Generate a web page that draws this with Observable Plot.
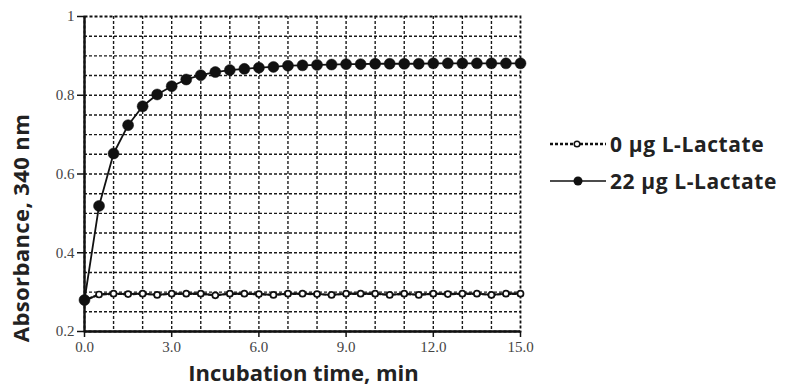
<!DOCTYPE html>
<html>
<head>
<meta charset="utf-8">
<script src="https://cdn.jsdelivr.net/npm/d3@7"></script>
<script src="https://cdn.jsdelivr.net/npm/@observablehq/plot@0.6"></script>
<style>
  html, body { margin: 0; padding: 0; background: #fff; }
  #wrap { position: relative; width: 787px; height: 389px; }
  #legend { position: absolute; left: 548px; top: 129px; font-family: "Open Sans", Lato, sans-serif; font-weight: bold; font-size: 21px; letter-spacing: 0.6px; color: #222; }
  .row { position: absolute; left: 0; white-space: nowrap; display: flex; align-items: center; height: 30px; }
  .row svg { display: block; }
  #ytitle { position: absolute; left: 20px; top: 228px; transform: translate(-50%, -50%) rotate(-90deg); white-space: nowrap; font-family: "Open Sans", sans-serif; font-weight: bold; font-size: 22px; letter-spacing: 0.4px; color: #222; line-height: 1; }
</style>
</head>
<body>
<div id="wrap"></div>
<script>
// ---- data ----
const times = [0,0.5,1,1.5,2,2.5,3,3.5,4,4.5,5,5.5,6,6.5,7,7.5,8,8.5,9,9.5,10,10.5,11,11.5,12,12.5,13,13.5,14,14.5,15];
const lactate22 = [0.280,0.519,0.652,0.724,0.772,0.802,0.823,0.840,0.851,0.859,0.864,0.867,0.870,0.872,0.875,0.876,0.877,0.878,0.879,0.879,0.880,0.880,0.880,0.880,0.881,0.881,0.881,0.881,0.881,0.881,0.881];
const lactate0 = [0.279,0.294,0.296,0.295,0.296,0.293,0.296,0.296,0.296,0.292,0.296,0.296,0.295,0.293,0.296,0.296,0.295,0.293,0.296,0.296,0.296,0.293,0.296,0.293,0.296,0.295,0.296,0.296,0.293,0.296,0.296];
const seriesNames = ["0 µg L-Lactate", "22 µg L-Lactate"];
const xTicks = [0,3,6,9,12,15];
const xTickLabels = ["0.0","3.0","6.0","9.0","12.0","15.0"];
const yTicks = [0.2,0.4,0.6,0.8,1];
const yTickLabels = ["0.2","0.4","0.6","0.8","1"];
const xGrid = [1,2,3,4,5,6,7,8,9,10,11,12,13,14];
const yGrid = [0.25,0.3,0.35,0.4,0.45,0.5,0.55,0.6,0.65,0.7,0.75,0.8,0.85,0.9,0.95];
const xLabel = "Incubation time, min";
const yLabel = "Absorbance, 340 nm";

const d0 = times.map((t, i) => ({t, v: lactate0[i], s: seriesNames[0]}));
const d22 = times.map((t, i) => ({t, v: lactate22[i], s: seriesNames[1]}));
const xFmt = new Map(xTicks.map((d, i) => [d, xTickLabels[i]]));
const yFmt = new Map(yTicks.map((d, i) => [d, yTickLabels[i]]));

const gridStyle = {stroke: "#000", strokeDasharray: "3,2", strokeWidth: 1.4, strokeOpacity: 0.9};

const chart = Plot.plot({
  width: 787,
  height: 389,
  marginLeft: 84,
  marginRight: 267,
  marginTop: 16,
  marginBottom: 58,
  style: {background: "transparent"},
  x: {domain: [0, 15]},
  y: {domain: [0.2, 1]},
  marks: [
    Plot.ruleX(xGrid, gridStyle),
    Plot.ruleY(yGrid, gridStyle),
    Plot.frame({stroke: "#111", strokeDasharray: "3,2", strokeWidth: 1.8}),
    Plot.ruleX([0], {stroke: "#111", strokeWidth: 2.4}),
    Plot.ruleY([0.2], {stroke: "#111", strokeWidth: 2.4}),
    Plot.axisX(xTicks, {tickSize: 6, tickFormat: d => xFmt.get(d), fontFamily: "Liberation Serif", fontSize: 15, fill: "#444", stroke: "#111", strokeWidth: 1.5, tickPadding: 4, label: null}),
    Plot.axisY(yTicks, {tickSize: 7, tickFormat: d => yFmt.get(d), fontFamily: "Liberation Serif", fontSize: 15, fill: "#444", stroke: "#111", strokeWidth: 1.5, tickPadding: 3, label: null}),
    Plot.line(d0, {x: "t", y: "v", stroke: "#111", strokeWidth: 2.4, strokeDasharray: "3,2"}),
    Plot.line(d22, {x: "t", y: "v", stroke: "#111", strokeWidth: 1.8}),
    Plot.dot(d0, {x: "t", y: "v", r: (d, i) => i === 0 ? 4 : 2.8, fill: "white", stroke: "#111", strokeWidth: 1.7}),
    Plot.dot(d22, {x: "t", y: "v", r: 5.5, fill: "#111", stroke: "#111", strokeWidth: 0.5}),
    Plot.text([xLabel], {frameAnchor: "bottom", dx: 1, dy: 49, fontFamily: "Open Sans", fontWeight: "bold", fontSize: 22, fill: "#222", style: "letter-spacing:0.5px"})
  ]
});

const wrap = document.getElementById("wrap");
wrap.appendChild(chart);

const yt = document.createElement("div");
yt.id = "ytitle";
yt.textContent = yLabel;
wrap.appendChild(yt);

const legend = document.createElement("div");
legend.id = "legend";
legend.innerHTML = `
  <div class="row" style="top:0px">
    <svg width="62" height="12"><line x1="2" y1="6" x2="58" y2="6" stroke="#111" stroke-width="2.4" stroke-dasharray="3,2"/><circle cx="29" cy="6" r="2.8" fill="white" stroke="#111" stroke-width="1.5"/></svg>
    <span>${seriesNames[0]}</span>
  </div>
  <div class="row" style="top:37px">
    <svg width="62" height="12"><line x1="2" y1="6" x2="58" y2="6" stroke="#111" stroke-width="1.6"/><circle cx="30" cy="6" r="4.5" fill="#111"/></svg>
    <span>${seriesNames[1]}</span>
  </div>`;
wrap.appendChild(legend);
</script>
</body>
</html>
